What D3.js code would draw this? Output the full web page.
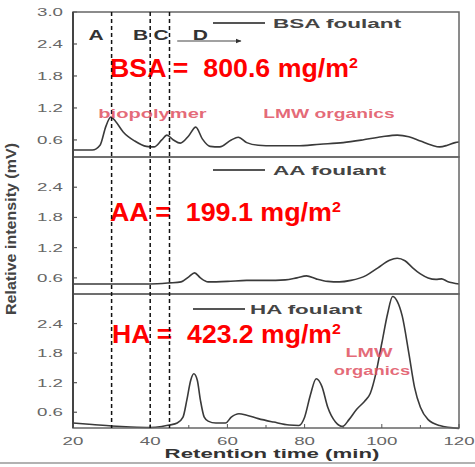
<!DOCTYPE html>
<html>
<head>
<meta charset="utf-8">
<script src="https://cdn.jsdelivr.net/npm/d3@7"></script>
<style>
  body { margin: 0; background: #fff; }
  svg { display: block; font-family: "Liberation Sans", Arial, sans-serif; }
</style>
</head>
<body>
<svg id="chart" width="475" height="467"></svg>
<script>
// Dati: [tempo (min), intensità (mV)]
const bsaCurve = [
  [20,0.41],[25,0.41],[27,0.5],[28.5,0.85],[29.8,1.03],[31,0.95],[33,0.75],[36,0.58],
  [39,0.48],[41,0.47],[43,0.6],[44.3,0.69],[46,0.6],[47.8,0.54],[50,0.68],[51.8,0.84],
  [53.5,0.62],[55.5,0.48],[58,0.47],[61,0.6],[62.8,0.65],[65,0.55],[68,0.5],[72,0.49],
  [78,0.49],[84,0.52],[90,0.55],[95,0.6],[100,0.66],[104,0.69],[107,0.66],[110,0.58],
  [113,0.5],[115,0.47],[117,0.5],[119,0.55],[120,0.56]
];
const aaCurve = [
  [20,0.48],[30,0.48],[40,0.48],[45,0.5],[48,0.52],[50,0.62],[51.5,0.7],[53,0.6],[55,0.52],
  [60,0.53],[65,0.55],[70,0.55],[75,0.56],[78,0.6],[80.5,0.64],[83,0.58],[86,0.53],[89,0.52],
  [92,0.55],[96,0.65],[99,0.8],[102,0.95],[104,0.99],[106,0.94],[108,0.8],[110,0.68],
  [112,0.6],[114,0.57],[115.5,0.58],[117,0.53],[120,0.48]
];
const haCurve = [
  [20,0.38],[25,0.35],[30,0.32],[35,0.3],[40,0.29],[43,0.31],[45,0.34],[47,0.38],[48.5,0.5],
  [49.5,0.85],[50.5,1.25],[51.3,1.38],[52.2,1.25],[53,0.85],[54,0.5],[55,0.42],[57,0.38],
  [59.5,0.38],[61,0.5],[63,0.57],[65,0.54],[68,0.47],[72,0.4],[76,0.34],[78.5,0.33],[80,0.5],
  [81.5,0.95],[83,1.28],[84.5,1.12],[86,0.7],[88,0.4],[89.8,0.31],[91.5,0.45],[93.5,0.66],
  [95.5,0.82],[97,0.98],[98.5,1.4],[100,2.0],[101.5,2.6],[102.8,2.95],[104,2.85],[105.3,2.55],
  [107,1.8],[108.5,1.1],[110,0.7],[112,0.45],[115,0.33],[120,0.27]
];

const panelNames   = ["BSA foulant", "AA foulant", "HA foulant"];
const loadLabels   = ["BSA =  800.6 mg/m", "AA =  199.1 mg/m", "HA =  423.2 mg/m"];
const yTicksFirst  = [0.6, 1.2, 1.8, 2.4, 3.0];
const yTicksOther  = [0.6, 1.2, 1.8, 2.4];
const xTicksMajor  = [20, 40, 60, 80, 100, 120];
const xTicksMinor  = [30, 50, 70, 90, 110];
const fractionCuts = [30, 40, 45];
const fractionTags = [["A", 26], ["B", 37.5], ["C", 42.8], ["D", 53]];

const svg = d3.select("#chart");
const X0 = 73, X1 = 459;
const SX = 1.7;   // il testo nero dell'originale è stirato in orizzontale
const panelTops = [12, 157, 294, 428];
const curves = [bsaCurve, aaCurve, haCurve];

const x = d3.scaleLinear().domain([20, 120]).range([X0, X1]);
const line = d3.line().curve(d3.curveMonotoneX);

function testoStirato(parent, tx, ty, str, anchor, sx) {
  return parent.append("text")
    .attr("transform", `translate(${tx},${ty}) scale(${sx},1)`)
    .attr("text-anchor", anchor)
    .text(str);
}

// adatta la larghezza del testo a quella misurata sull'originale
function adatta(sel, tx, ty, larghezza) {
  const w = sel.node().getBBox().width;
  sel.attr("transform", `translate(${tx},${ty}) scale(${larghezza / w},1)`);
  return sel;
}

/* ── PANNELLI ─────────────────────────────── */
curves.forEach((data, i) => {
  const top = panelTops[i], bot = panelTops[i + 1];
  const y = d3.scaleLinear().domain([0.28, 3.0]).range([bot, top]);
  const g = svg.append("g");

  // tacche y verso l'interno
  const ticks = i === 0 ? yTicksFirst : yTicksOther;
  g.selectAll(".yt").data(ticks).join("line")
    .attr("x1", X0).attr("x2", X0 + 4)
    .attr("y1", d => y(d)).attr("y2", d => y(d))
    .attr("stroke", "#555").attr("stroke-width", 1.2);
  ticks.forEach(d => {
    const t = testoStirato(g, 63, y(d) + 4, d3.format(".1f")(d), "end", 1)
      .attr("fill", "#666").style("font-size", "11px");
    adatta(t, 63, y(d) + 4, 26);
  });

  line.x(d => x(d[0])).y(d => y(d[1]));
  g.append("path")
    .datum(data)
    .attr("fill", "none")
    .attr("stroke", "#3a3a3a")
    .attr("stroke-width", 1.6)
    .attr("d", line);

  // cornice pannello
  g.append("rect")
    .attr("x", X0).attr("y", top)
    .attr("width", X1 - X0).attr("height", bot - top)
    .attr("fill", "none").attr("stroke", "#666").attr("stroke-width", 1.5);

  // legenda
  const ly = [23, 170, 309][i];
  const lx = [213, 213, 193][i];
  g.append("line")
    .attr("x1", lx).attr("x2", lx + 52).attr("y1", ly).attr("y2", ly)
    .attr("stroke", "#555").attr("stroke-width", 2);
  const lt = testoStirato(g, lx + 60, ly + 5, panelNames[i], "start", 1)
    .attr("fill", "#444").style("font-size", "13.5px").style("font-weight", "bold");
  adatta(lt, [273, 273, 250][i], ly + 5, [129, 114, 113][i]);

  // carico di sporcamento
  const ry = [77, 221, 343][i];
  const t = g.append("text")
    .attr("fill", "#ff0000").style("font-size", "25px").style("font-weight", "bold")
    .style("white-space", "pre")
    .text(loadLabels[i]);
  t.append("tspan").attr("dy", -9).style("font-size", "15px").text("2");
  adatta(t, [110, 110, 112][i], ry, [248, 231, 229][i]);
});

// asse sinistro più marcato
svg.append("line")
  .attr("x1", X0).attr("x2", X0).attr("y1", panelTops[0]).attr("y2", panelTops[3])
  .attr("stroke", "#444").attr("stroke-width", 2);

/* ── ASSE X ───────────────────────────────── */
const yb = panelTops[3];
svg.append("g")
  .selectAll("line")
  .data(xTicksMajor.concat(xTicksMinor))
  .join("line")
  .attr("x1", d => x(d)).attr("x2", d => x(d))
  .attr("y1", yb).attr("y2", d => yb - (xTicksMajor.includes(d) ? 4 : 3))
  .attr("stroke", "#555");

xTicksMajor.forEach(d => {
  testoStirato(svg, x(d), 445, d, "middle", SX)
    .attr("fill", "#666").style("font-size", "11px");
});

const xl = testoStirato(svg, 272, 458, "Retention time (min)", "middle", 1)
  .attr("fill", "#333").style("font-size", "13px").style("font-weight", "bold");
adatta(xl, 272, 458, 215);

svg.append("text")
  .attr("transform", "translate(16,229) rotate(-90)")
  .attr("text-anchor", "middle")
  .attr("fill", "#444").style("font-size", "14.5px").style("font-weight", "bold")
  .attr("textLength", 172).attr("lengthAdjust", "spacingAndGlyphs")
  .text("Relative intensity (mV)");

svg.append("line")
  .attr("x1", 0).attr("x2", 475).attr("y1", 463).attr("y2", 463)
  .attr("stroke", "#999").attr("stroke-width", 1.5);

/* ── FRAZIONI ─────────────────────────────── */
svg.append("g")
  .selectAll("line")
  .data(fractionCuts)
  .join("line")
  .attr("x1", d => x(d)).attr("x2", d => x(d))
  .attr("y1", panelTops[0]).attr("y2", panelTops[3])
  .attr("stroke", "#111").attr("stroke-width", 1.5)
  .attr("stroke-dasharray", "4,3");

fractionTags.forEach(d => {
  testoStirato(svg, x(d[1]), 40, d[0], "middle", 1.5)
    .attr("fill", "#333").style("font-size", "14px").style("font-weight", "bold");
});

svg.append("defs").append("marker")
  .attr("id", "arr").attr("viewBox", "0 0 10 10")
  .attr("refX", 9).attr("refY", 5)
  .attr("markerWidth", 5).attr("markerHeight", 5).attr("orient", "auto")
  .append("path").attr("d", "M0,1L10,5L0,9Z").attr("fill", "#333");
svg.append("line")
  .attr("x1", x(47)).attr("x2", x(63.5)).attr("y1", 41).attr("y2", 41)
  .attr("stroke", "#444").attr("stroke-width", 1.2)
  .attr("marker-end", "url(#arr)");

/* ── ETICHETTE ROSSE ──────────────────────── */
const pinks = [
  ["biopolymer", 152.5, 118, 109],
  ["LMW organics", 329, 118, 132],
  ["LMW", 369, 357, 48],
  ["organics", 372, 375, 77]
];
pinks.forEach(d => {
  const t = testoStirato(svg, d[1], d[2], d[0], "middle", 1)
    .attr("fill", "#e0505f").attr("fill-opacity", 0.85)
    .style("font-size", "12px").style("font-weight", "bold");
  adatta(t, d[1], d[2], d[3]);
});
</script>
</body>
</html>
